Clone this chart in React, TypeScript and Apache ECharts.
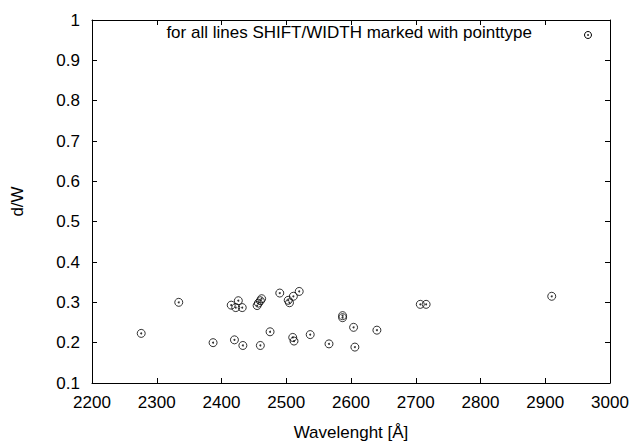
import React, { useEffect, useRef } from "react";
import * as echarts from "echarts";

const wavelengths = [
  2276, 2334, 2387, 2415, 2422, 2426, 2432, 2420, 2433, 2455, 2457, 2460, 2462,
  2460, 2475, 2490, 2503, 2505, 2511, 2520, 2510, 2512, 2537, 2566, 2587, 2587,
  2604, 2606, 2640, 2707, 2716, 2910,
];
const ratios = [
  0.223, 0.3, 0.2, 0.293, 0.287, 0.304, 0.287, 0.207, 0.193, 0.292, 0.298, 0.304, 0.309,
  0.193, 0.227, 0.323, 0.305, 0.299, 0.315, 0.327, 0.213, 0.204, 0.22, 0.197, 0.262, 0.267,
  0.238, 0.189, 0.231, 0.295, 0.295, 0.315,
];
const keyTitle = "for all lines SHIFT/WIDTH marked with pointtype";
const xTitle = "Wavelenght [Å]";
const yTitle = "d/W";

const FONT = "Liberation Sans, Arial, Helvetica, sans-serif";
const FS = 17;

export default function App() {
  const ref = useRef<HTMLDivElement>(null);
  useEffect(() => {
    if (!ref.current) return;
    const chart = echarts.init(ref.current, undefined, { renderer: "svg" });
    const points = wavelengths.map((w, i) => [w, ratios[i]]);
    const axisLine = { show: true, lineStyle: { color: "#000", width: 1 } };
    const tick = { show: true, inside: true, length: 5, lineStyle: { color: "#000" } };
    chart.setOption({
      animation: false,
      grid: { left: 92, right: 23, top: 20, bottom: 56, containLabel: false },
      xAxis: [
        {
          type: "value", min: 2200, max: 3000, interval: 100, position: "bottom",
          axisLine, axisTick: tick, splitLine: { show: false },
          axisLabel: {
            color: "#000", fontSize: FS, fontFamily: FONT, margin: 11,
            formatter: (v: number) => String(v),
          },
          name: xTitle, nameLocation: "middle", nameGap: 41,
          nameTextStyle: { color: "#000", fontSize: FS, fontFamily: FONT },
        },
        {
          type: "value", min: 2200, max: 3000, interval: 100, position: "top",
          axisLine, axisTick: tick, splitLine: { show: false }, axisLabel: { show: false },
        },
      ],
      yAxis: [
        {
          type: "value", min: 0.1, max: 1, interval: 0.1, position: "left",
          axisLine, axisTick: tick, splitLine: { show: false },
          axisLabel: {
            color: "#000", fontSize: FS, fontFamily: FONT, margin: 12,
            formatter: (v: number) => String(Math.round(v * 10) / 10),
          },
          name: yTitle, nameLocation: "middle", nameGap: 66, nameRotate: 90,
          nameTextStyle: { color: "#000", fontSize: FS, fontFamily: FONT },
        },
        {
          type: "value", min: 0.1, max: 1, interval: 0.1, position: "right",
          axisLine, axisTick: tick, splitLine: { show: false }, axisLabel: { show: false },
        },
      ],
      series: [
        {
          type: "scatter", data: points, symbol: "circle", symbolSize: 8,
          itemStyle: { color: "transparent", borderColor: "#000", borderWidth: 1 },
          silent: true,
        },
        {
          type: "scatter", data: points, symbol: "circle", symbolSize: 2,
          itemStyle: { color: "#000" }, silent: true,
        },
      ],
      graphic: [
        {
          type: "text", right: 633 - 532, top: 24,
          style: { text: keyTitle, fill: "#000", fontSize: FS, fontFamily: FONT },
        },
        {
          type: "circle", shape: { cx: 588, cy: 35, r: 3.5 },
          style: { fill: "none", stroke: "#000", lineWidth: 1 },
        },
        {
          type: "circle", shape: { cx: 588, cy: 35, r: 0.8 },
          style: { fill: "#000" },
        },
      ],
    });
    return () => chart.dispose();
  }, []);
  return (
    <div
      ref={ref}
      style={{ position: "absolute", left: 0, top: 0, width: 633, height: 446 }}
    />
  );
}
